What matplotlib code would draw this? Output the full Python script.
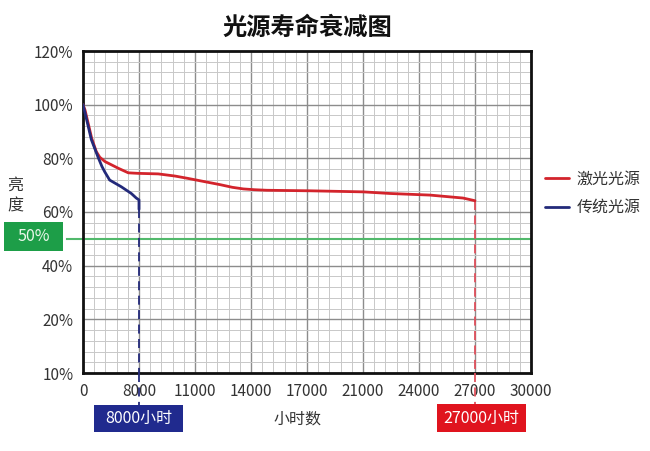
import numpy as np
import matplotlib
matplotlib.use("Agg")
import matplotlib.pyplot as plt
from matplotlib.patches import Rectangle
from matplotlib.ticker import FixedLocator, FixedFormatter

plt.rcParams['font.family'] = ['Noto Sans CJK SC', 'DejaVu Sans']

# ---------------- data ----------------
x_tick_hours = [0, 8000, 11000, 14000, 17000, 21000, 24000, 27000, 30000]
x_tick_labels = ["0", "8000", "11000", "14000", "17000", "21000", "24000", "27000", "30000"]
y_tick_values = [10, 20, 40, 60, 80, 100, 120]
y_tick_labels = ["10%", "20%", "40%", "60%", "80%", "100%", "120%"]

laser_hours = [0, 290, 1240, 1900, 2400, 3140, 5040, 6470, 7900, 9030, 9930, 10640, 11300,
               12340, 13000, 13590, 14200, 14840, 17220, 21020, 22440, 24590, 26360, 27000]
laser_pct = [100, 98, 87.5, 82.5, 80.4, 78.8, 76.3, 74.6, 74.4, 74.2, 73.4, 72.5, 71.6,
             70.2, 69.2, 68.6, 68.3, 68.1, 67.9, 67.5, 66.9, 66.3, 65.2, 64.2]

trad_hours = [0, 240, 1190, 2140, 2700, 3100, 3810, 5470, 6900, 7610, 8000, 8000]
trad_pct = [100, 97.5, 87.0, 80.5, 77.0, 75, 71.9, 69.4, 66.9, 65.2, 64.5, 61]

threshold = 50
laser_life = 27000
trad_life = 8000

series_names = ["激光光源", "传统光源"]
title = "光源寿命衰减图"

# ---------------- scales ----------------
xpos = np.arange(len(x_tick_hours), dtype=float)
ypos = np.arange(len(y_tick_values), dtype=float)

def xf(v):
    return np.interp(v, x_tick_hours, xpos)
def xi(p):
    return np.interp(p, xpos, x_tick_hours)
def yf(v):
    return np.interp(v, y_tick_values, ypos)
def yi(p):
    return np.interp(p, ypos, y_tick_values)

W, H = 650, 451
fig = plt.figure(figsize=(6.5, 4.51), dpi=100)
ax = fig.add_axes([83 / W, 1 - 373 / H, (531 - 83) / W, (373 - 51) / H])
ax.set_xscale('function', functions=(xf, xi))
ax.set_yscale('function', functions=(yf, yi))
ax.set_xlim(x_tick_hours[0], x_tick_hours[-1])
ax.set_ylim(y_tick_values[0], y_tick_values[-1])

ax.xaxis.set_major_locator(FixedLocator(x_tick_hours))
ax.xaxis.set_major_formatter(FixedFormatter(x_tick_labels))
ax.yaxis.set_major_locator(FixedLocator(y_tick_values))
ax.yaxis.set_major_formatter(FixedFormatter(y_tick_labels))
ax.xaxis.set_minor_locator(FixedLocator(xi(np.arange(0, xpos[-1] + 0.001, 0.2))))
ax.yaxis.set_minor_locator(FixedLocator(yi(np.arange(0, ypos[-1] + 0.001, 0.2))))

ax.tick_params(axis='both', which='both', length=0, labelsize=11, labelcolor='#333333')
ax.tick_params(axis='x', pad=7)
ax.tick_params(axis='y', pad=7)

ax.grid(which='major', color='#8c8c8c', linewidth=1.0)
ax.grid(which='minor', color='#c8c8c8', linewidth=0.7)
ax.set_axisbelow(True)
for s in ax.spines.values():
    s.set_linewidth(2.0)
    s.set_color('#111111')

red = '#d3242c'
blue = '#232a7a'

# threshold line (extends left outside axes)
ax.axhline(threshold, xmin=-0.036, xmax=1, color='#52b96c', linewidth=1.5, clip_on=False, zorder=2)

# dashed drop lines
ax.plot([trad_life, trad_life], [trad_pct[-1], y_tick_values[0]], color=blue, lw=1.3,
        dashes=(5, 3), zorder=3)
ax.plot([trad_life, trad_life], [0, -0.1], transform=ax.get_xaxis_transform(), color=blue,
        lw=1.3, dashes=(5, 3), clip_on=False, zorder=3)
ax.plot([laser_life, laser_life], [laser_pct[-1], y_tick_values[0]], color='#e0505c', lw=1.3,
        dashes=(5, 3), zorder=3)
ax.plot([laser_life, laser_life], [0, -0.1], transform=ax.get_xaxis_transform(), color='#e0505c',
        lw=1.3, dashes=(5, 3), clip_on=False, zorder=3)

l1, = ax.plot(laser_hours, laser_pct, color=red, lw=2.0, zorder=4, solid_capstyle='round',
              solid_joinstyle='round')
l2, = ax.plot(trad_hours, trad_pct, color=blue, lw=2.0, zorder=5, solid_capstyle='round',
              solid_joinstyle='round')

# legend
ax.legend([l1, l2], series_names, loc='upper left', bbox_to_anchor=(545 / W, 1 - 171 / H),
          bbox_transform=fig.transFigure, frameon=False, fontsize=11.5, handlelength=1.5,
          handletextpad=0.5, labelspacing=0.7, borderpad=0, borderaxespad=0,
          labelcolor='#333333')

# title
fig.text(307 / W, 1 - 28 / H, title, ha='center', va='center', fontsize=17.5,
         fontweight='bold', color='#111111')

# y label
fig.text(15 / W, 1 - 196 / H, "亮\n度", ha='center', va='center', fontsize=11.5,
         color='#333333', linespacing=1.3)

# green 50% box
fig.patches.append(Rectangle((4 / W, 1 - 251 / H), 59 / W, 29 / H, transform=fig.transFigure,
                             facecolor='#1d9e48', edgecolor='none'))
fig.text(33.5 / W, 1 - 236.5 / H, "50%", ha='center', va='center', fontsize=11.5, color='#eaf7ea')

# bottom labels
fig.patches.append(Rectangle((94 / W, 1 - 432 / H), 89 / W, 27 / H, transform=fig.transFigure,
                             facecolor='#202a8e', edgecolor='none'))
fig.text(138.5 / W, 1 - 418.5 / H, "8000小时", ha='center', va='center', fontsize=11.5, color='white')
fig.patches.append(Rectangle((437 / W, 1 - 432 / H), 89 / W, 28 / H, transform=fig.transFigure,
                             facecolor='#e0141e', edgecolor='none'))
fig.text(481.5 / W, 1 - 418 / H, "27000小时", ha='center', va='center', fontsize=11.5, color='white')
fig.text(298 / W, 1 - 419 / H, "小时数", ha='center', va='center', fontsize=11.5, color='#333333')

fig.savefig('out.png', dpi=100)
